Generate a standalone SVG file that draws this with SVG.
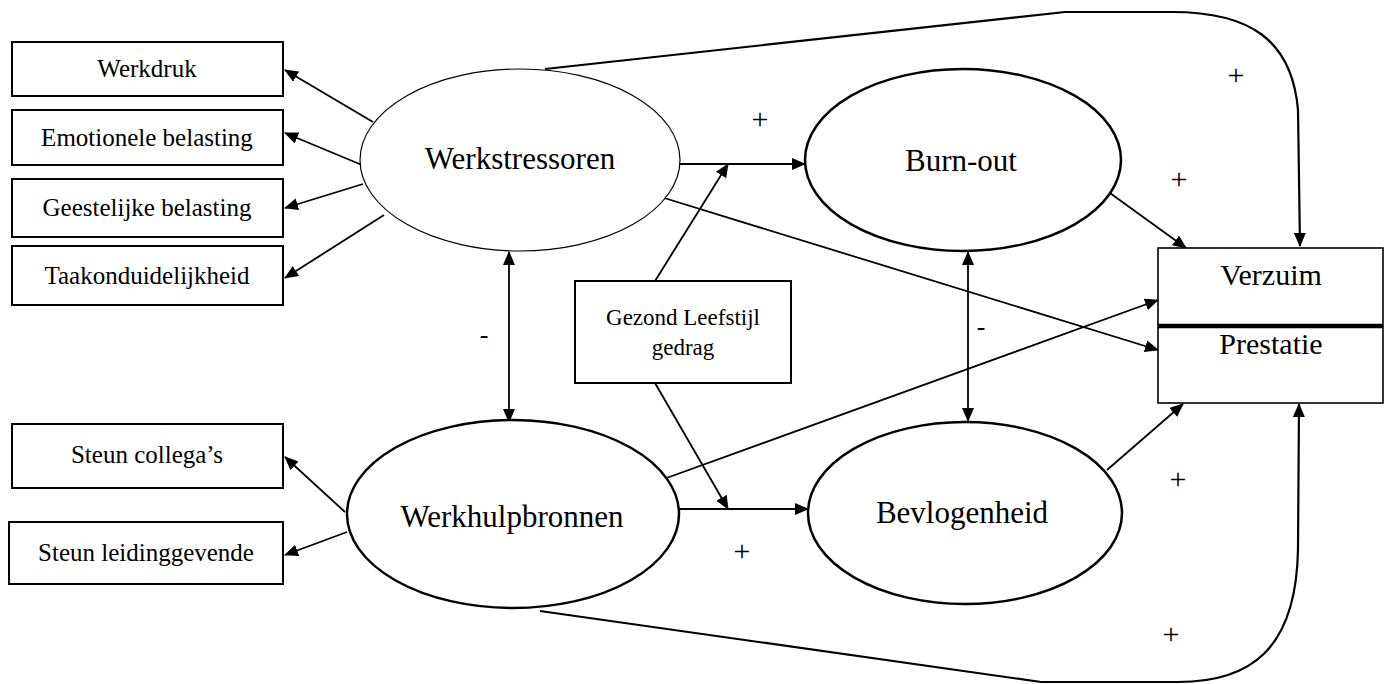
<svg xmlns="http://www.w3.org/2000/svg" width="1389" height="684" viewBox="0 0 1389 684">
<style>
.box{fill:#fff;stroke:#000;stroke-width:2}
.ell{fill:#fff;stroke:#000;stroke-width:2.5}
.t{font-family:"Liberation Serif","Times New Roman",serif;fill:#000;text-anchor:middle}
.s{font-size:25px}
.m{font-size:31px}
.l{font-family:"Liberation Serif","Times New Roman",serif;font-size:30px;fill:#000;text-anchor:middle}
.d{font-family:"Liberation Serif","Times New Roman",serif;font-size:26px;fill:#000;text-anchor:middle}
.c{fill:none;stroke:#000;stroke-width:1.8}
.cv{fill:none;stroke:#000;stroke-width:2.2}
</style>
<defs>
<marker id="ah" markerUnits="userSpaceOnUse" markerWidth="14" markerHeight="12" refX="13" refY="6" orient="auto">
<path d="M0,0 L14,6 L0,12 z" fill="#000"/>
</marker>
<marker id="as" markerUnits="userSpaceOnUse" markerWidth="14" markerHeight="12" refX="13" refY="6" orient="auto-start-reverse">
<path d="M0,0 L14,6 L0,12 z" fill="#000"/>
</marker>
</defs>
<rect width="1389" height="684" fill="#fff"/>

<g id="connectors">
<path class="cv" d="M545,69 L1065,12 L1172,12 C1250,12 1292,40 1298,110 L1300,246" marker-end="url(#ah)"/>
<path class="cv" d="M540,611 L1041,682 L1178,682 C1250,682 1296,650 1298,550 L1299,404" marker-end="url(#ah)"/>
<line class="c" x1="373" y1="122" x2="285" y2="70" marker-end="url(#ah)"/>
<line class="c" x1="362" y1="165" x2="285" y2="133" marker-end="url(#ah)"/>
<line class="c" x1="363" y1="184" x2="285" y2="208" marker-end="url(#ah)"/>
<line class="c" x1="384" y1="215" x2="285" y2="278" marker-end="url(#ah)"/>
<line class="c" x1="345" y1="512" x2="285" y2="457" marker-end="url(#ah)"/>
<line class="c" x1="347" y1="532" x2="285" y2="555" marker-end="url(#ah)"/>
<line class="c" x1="680" y1="164" x2="805" y2="164" marker-end="url(#ah)"/>
<line class="c" x1="679" y1="509" x2="808" y2="509" marker-end="url(#ah)"/>
<line class="c" x1="655" y1="281" x2="728" y2="164" marker-end="url(#ah)"/>
<line class="c" x1="655" y1="383" x2="728" y2="509" marker-end="url(#ah)"/>
<line class="c" x1="509" y1="252" x2="509" y2="422" marker-start="url(#as)" marker-end="url(#ah)"/>
<line class="c" x1="968" y1="252" x2="968" y2="421" marker-start="url(#as)" marker-end="url(#ah)"/>
<line class="c" x1="1103" y1="188" x2="1186" y2="248" marker-end="url(#ah)"/>
<line class="c" x1="661" y1="197" x2="1158" y2="350" marker-end="url(#ah)"/>
<line class="c" x1="661" y1="480" x2="1158" y2="300" marker-end="url(#ah)"/>
<line class="c" x1="1107" y1="470" x2="1183" y2="404" marker-end="url(#ah)"/>
<text class="l" x="760" y="129">+</text>
<text class="l" x="1236" y="85">+</text>
<text class="l" x="1179" y="189">+</text>
<text class="d" x="484" y="343">-</text>
<text class="d" x="981" y="335">-</text>
<text class="l" x="742" y="561">+</text>
<text class="l" x="1178" y="489">+</text>
<text class="l" x="1171" y="644">+</text>
</g>

<g id="werkdruk"><rect class="box" x="12" y="42" width="271" height="54"/><text class="t s" x="147" y="77">Werkdruk</text></g>
<g id="emotionele"><rect class="box" x="12" y="110" width="271" height="55"/><text class="t s" x="147" y="146">Emotionele belasting</text></g>
<g id="geestelijke"><rect class="box" x="12" y="179" width="271" height="58"/><text class="t s" x="147" y="216">Geestelijke belasting</text></g>
<g id="taak"><rect class="box" x="12" y="246" width="271" height="59"/><text class="t s" x="147" y="284">Taakonduidelijkheid</text></g>
<g id="collegas"><rect class="box" x="12" y="424" width="271" height="64"/><text class="t s" x="147" y="463">Steun collega’s</text></g>
<g id="leiding"><rect class="box" x="9" y="522" width="274" height="62"/><text class="t s" x="146" y="561">Steun leidinggevende</text></g>

<g id="werkstressoren"><ellipse cx="520" cy="160" rx="160" ry="91" fill="#fff" stroke="#000" stroke-width="1.2"/><text class="t m" x="520" y="169">Werkstressoren</text></g>
<g id="burnout"><ellipse class="ell" cx="963" cy="160" rx="158" ry="91"/><text class="t m" x="961" y="171">Burn-out</text></g>
<g id="werkhulpbronnen"><ellipse class="ell" cx="513" cy="514" rx="166" ry="94"/><text class="t m" x="512" y="527">Werkhulpbronnen</text></g>
<g id="bevlogenheid"><ellipse class="ell" cx="965" cy="513" rx="157" ry="91"/><text class="t m" x="962" y="523">Bevlogenheid</text></g>

<g id="gezond"><rect class="box" x="575" y="281" width="216" height="102"/><text class="t" style="font-size:23px" x="683" y="325">Gezond Leefstijl</text><text class="t" style="font-size:23px" x="683" y="355">gedrag</text></g>

<g id="uitkomst"><rect x="1158" y="248" width="225" height="155" fill="#fff" stroke="#000" stroke-width="1.6"/><line x1="1158" y1="326" x2="1383" y2="326" stroke="#000" stroke-width="4.5"/><text class="t" style="font-size:30px" x="1271" y="285">Verzuim</text><text class="t" style="font-size:30px" x="1271" y="354">Prestatie</text></g>
</svg>
